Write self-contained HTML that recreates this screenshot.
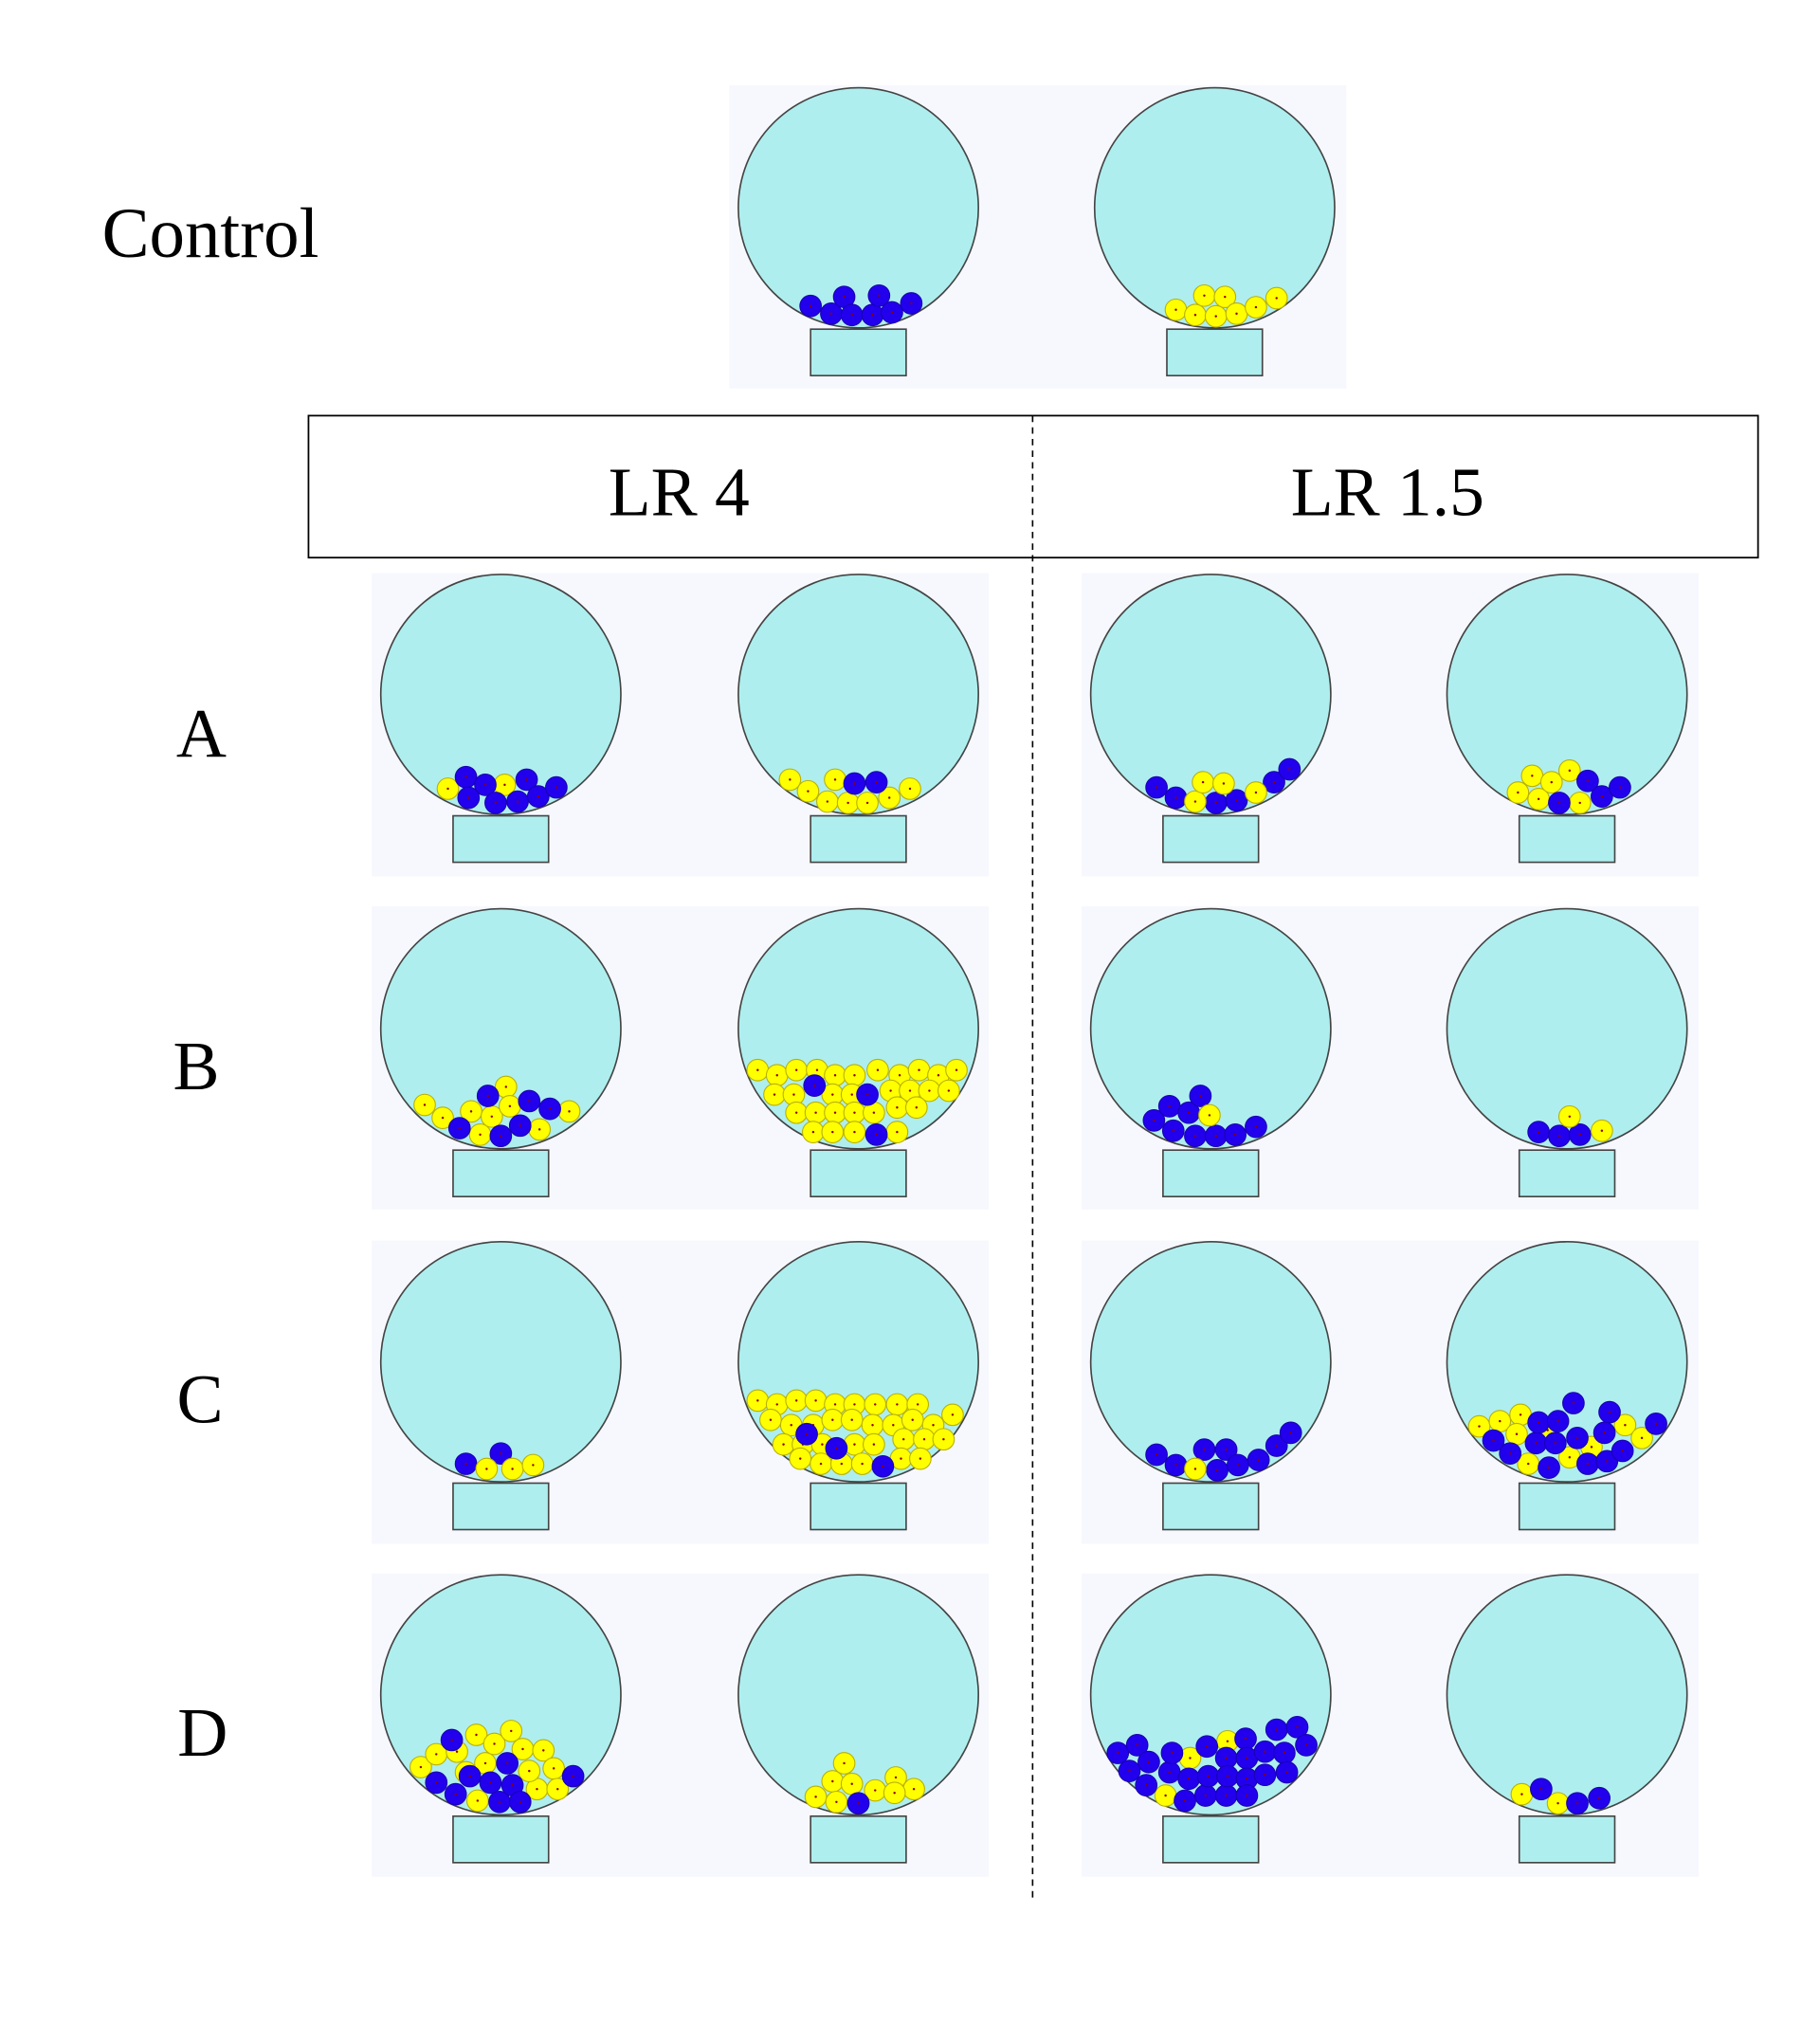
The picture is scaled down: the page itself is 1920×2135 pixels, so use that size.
<!DOCTYPE html>
<html><head><meta charset="utf-8"><style>
html,body{margin:0;padding:0;background:#fff;}
svg{display:block;}
</style></head><body>
<svg id="fig" width="1920" height="2135" viewBox="0 0 1410 1568" preserveAspectRatio="none" xmlns="http://www.w3.org/2000/svg" font-family="'Liberation Serif', serif">
<text x="79" y="199" font-size="55">Control</text>
<rect x="239" y="322" width="1123" height="110" fill="none" stroke="#000" stroke-width="1.3"/>
<text x="526" y="399" font-size="54" text-anchor="middle">LR 4</text>
<text x="1075" y="399" font-size="54" text-anchor="middle">LR 1.5</text>
<line x1="800" y1="322" x2="800" y2="1470" stroke="#000" stroke-width="1.2" stroke-dasharray="5,4"/>
<text x="156" y="586" font-size="54" text-anchor="middle">A</text>
<text x="152" y="844" font-size="54" text-anchor="middle">B</text>
<text x="155" y="1102" font-size="54" text-anchor="middle">C</text>
<text x="157" y="1360" font-size="54" text-anchor="middle">D</text>
<g id="panels"></g>
</svg>
<script>
// urn centers (circle centres)
const urnCx = [665,941, 388,665,938,1214, 388,665,938,1214, 388,665,938,1214, 388,665,938,1214];
const urnCy = [161,161, 538,538,538,538, 797,797,797,797, 1055,1055,1055,1055, 1313,1313,1313,1313];
const urnNames = ['control-blue','control-yellow','a-lr4-1','a-lr4-2','a-lr15-1','a-lr15-2','b-lr4-1','b-lr4-2','b-lr15-1','b-lr15-2','c-lr4-1','c-lr4-2','c-lr15-1','c-lr15-2','d-lr4-1','d-lr4-2','d-lr15-1','d-lr15-2'];
const panelX = [565, 288, 838, 288, 838, 288, 838, 288, 838];
const panelY = [66, 444, 444, 702, 702, 961, 961, 1219, 1219];
// balls: absolute positions per urn, colour 'b' blue / 'y' yellow
const ballX = [
 [628,644,654,660,676,681,691,706],
 [911,926,933,942,949,958,973,989],
 [347,391,361,363,376,384,401,408,417,431],
 [612,626,641,647,657,672,689,705,662,679],
 [896,911,942,958,987,999,926,932,948,973],
 [1176,1187,1192,1202,1216,1224,1208,1230,1241,1255],
 [329,343,365,372,381,392,395,418,441,356,378,388,403,410,426],
 [587,602,617,633,647,662,680,697,712,727,741,600,615,645,660,690,705,720,735,617,632,647,662,677,695,710,630,645,662,695,631,672,679],
 [894,906,909,921,926,930,942,957,973,937],
 [1192,1208,1224,1216,1241],
 [361,388,377,397,413],
 [587,602,617,632,647,662,678,695,711,597,613,630,645,660,676,692,707,723,738,607,622,637,662,677,700,716,731,620,636,652,668,698,713,625,648,684],
 [896,911,933,943,950,959,975,989,1000,926],
 [1146,1162,1178,1175,1184,1216,1233,1259,1272,1199,1157,1170,1190,1192,1200,1207,1219,1222,1230,1245,1247,1243,1257,1283,1205],
 [326,338,354,361,369,376,383,396,405,421,416,429,432,370,410,350,338,353,364,380,387,393,397,403,444],
 [632,645,648,654,660,678,694,708,693,665],
 [922,951,903,866,881,875,890,888,906,908,918,921,934,936,935,950,950,951,965,966,966,966,980,980,989,995,997,1005,1012],
 [1179,1207,1194,1222,1239]
];
const ballY = [
 [237,243,230,244,244,229,242,235],
 [240,244,229,245,230,243,238,231],
 [611,608,602,618,608,622,621,604,617,610],
 [604,613,621,604,622,622,618,611,607,606],
 [610,618,622,620,606,596,621,606,607,614],
 [614,601,619,606,597,622,622,605,617,610],
 [856,866,861,879,865,842,857,875,861,874,849,880,872,853,859],
 [829,833,829,829,833,833,829,833,829,833,829,848,848,848,848,845,845,845,845,862,862,862,862,862,858,858,877,877,877,877,841,848,879],
 [868,857,876,862,880,849,880,879,873,864],
 [877,880,879,865,876],
 [1134,1126,1138,1138,1135],
 [1085,1088,1085,1085,1088,1088,1088,1088,1088,1100,1104,1104,1100,1100,1104,1104,1100,1104,1096,1119,1119,1119,1119,1119,1115,1115,1115,1130,1134,1134,1134,1130,1130,1111,1122,1136],
 [1127,1135,1123,1139,1123,1135,1131,1120,1110,1138],
 [1105,1101,1096,1111,1134,1129,1121,1104,1114,1108,1116,1126,1118,1102,1137,1101,1087,1114,1134,1132,1094,1110,1124,1103,1118],
 [1369,1359,1357,1373,1344,1366,1351,1341,1355,1356,1386,1370,1386,1395,1372,1348,1381,1390,1376,1381,1396,1366,1383,1396,1376],
 [1392,1380,1396,1366,1382,1387,1377,1386,1389,1397],
 [1362,1349,1391,1358,1352,1372,1365,1383,1373,1358,1395,1378,1391,1376,1353,1391,1362,1376,1347,1362,1378,1391,1357,1375,1340,1358,1373,1338,1352],
 [1390,1397,1386,1397,1393]
];
const ballC = [
 'bbbbbbbb','yyyyyyyy','yybbbbbbbb','yyyyyyyybb','bbbbbbyyyy','yyyyyybbbb',
 'yyyyyyyyybbbbbb','yyyyyyyyyyyyyyyyyyyyyyyyyyyyyybbb','bbbbbbbbby','bbbyy',
 'bbyyy','yyyyyyyyyyyyyyyyyyyyyyyyyyyyyyyyybbb','bbbbbbbbby','yyyyyyyyyybbbbbbbbbbbbbbb',
 'yyyyyyyyyyyyyyybbbbbbbbbb','yyyyyyyyyb','yyybbbbbbbbbbbbbbbbbbbbbbbbbb','yybbb'
];
const NS='http://www.w3.org/2000/svg';
const g=document.getElementById('panels');
function mk(t,a){const e=document.createElementNS(NS,t);for(const k in a)e.setAttribute(k,a[k]);return e;}
for(let i=0;i<panelX.length;i++){
  const r=mk('rect',{x:panelX[i],y:panelY[i],width:478,height:235,fill:'#f7f8fe'});
  
  
  g.appendChild(r);
}
for(let i=0;i<urnCx.length;i++){
  const cx=urnCx[i],cy=urnCy[i];
  const grp=mk('g',{});
  
  
  const c=mk('circle',{cx:cx,cy:cy,r:93,fill:'#afeeee',stroke:'#444','stroke-width':1.2});
  
  
  grp.appendChild(c);
  const base=mk('rect',{x:cx-37,y:cy+94,width:74,height:36,fill:'#afeeee',stroke:'#444','stroke-width':1.2});
  
  
  grp.appendChild(base);
  const xs=ballX[i],ys=ballY[i],cs=ballC[i];
  for(let j=0;j<xs.length;j++){
    const yel=cs[j]==='y';
    const b=mk('circle',{cx:xs[j],cy:ys[j],r:8.3,fill:yel?'#ffff00':'#2200ee',stroke:yel?'#b8b000':'#1800b0','stroke-width':0.8});
    
    
    grp.appendChild(b);
    const d=mk('circle',{cx:xs[j],cy:ys[j],r:0.9,fill:'#8b0000'});
    
    
    grp.appendChild(d);
  }
  g.appendChild(grp);
}
</script>
</body></html>
